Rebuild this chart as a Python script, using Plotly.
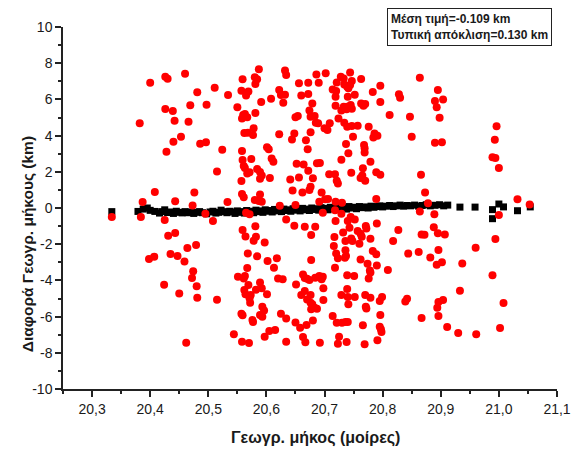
import plotly.graph_objects as go

# Red series: (longitude in degrees, difference in km)
red_points = [
    (20.400, 6.92), (20.426, 7.25), (20.430, 7.14), (20.460, 7.42), (20.511, 6.65), (20.481, 6.39),
    (20.534, 6.24), (20.469, 5.67), (20.497, 5.71), (20.426, 5.47), (20.439, 5.36), (20.382, 4.68),
    (20.442, 4.82), (20.466, 4.77), (20.453, 3.94), (20.440, 3.66), (20.486, 3.55), (20.496, 3.63),
    (20.428, 3.11), (20.524, 3.22), (20.515, 2.01), (20.408, 0.88), (20.476, 0.85), (20.387, 0.33),
    (20.443, 0.37), (20.473, 0.14), (20.533, 0.33),
    (20.334, -0.50), (20.384, -0.50), (20.425, -0.66), (20.495, -0.32), (20.508, -0.72), (20.431, -1.53),
    (20.443, -1.38), (20.464, -2.21), (20.479, -2.05), (20.398, -2.82), (20.407, -2.69), (20.435, -2.54),
    (20.447, -2.65), (20.459, -2.95), (20.474, -3.50), (20.472, -3.87), (20.424, -4.24), (20.480, -4.33),
    (20.450, -4.72), (20.481, -4.96), (20.515, -5.07), (20.462, -7.44),
    (20.587, 7.66), (20.632, 7.59), (20.634, 7.35), (20.686, 7.38), (20.702, 7.44), (20.559, 7.11),
    (20.580, 7.22), (20.584, 7.11), (20.581, 6.85), (20.728, 7.25), (20.733, 7.16), (20.744, 7.48),
    (20.747, 7.02), (20.763, 7.13), (20.656, 6.89), (20.672, 6.92), (20.690, 6.92), (20.721, 6.94),
    (20.734, 6.83), (20.739, 6.70), (20.744, 6.79), (20.741, 6.61), (20.796, 6.76), (20.557, 6.48),
    (20.569, 6.43), (20.565, 6.21), (20.622, 6.52), (20.625, 6.24), (20.632, 6.26), (20.660, 6.22),
    (20.672, 6.30), (20.714, 6.55), (20.720, 6.46), (20.752, 6.26), (20.783, 6.41), (20.719, 6.15),
    (20.740, 6.15), (20.591, 5.85), (20.608, 6.04), (20.629, 5.82), (20.679, 5.78), (20.550, 5.56),
    (20.560, 5.14), (20.563, 5.19), (20.558, 4.95), (20.567, 5.01), (20.581, 5.25), (20.654, 5.08),
    (20.650, 5.01), (20.674, 5.38), (20.676, 5.04), (20.683, 5.08), (20.685, 4.71), (20.689, 4.68),
    (20.719, 5.65), (20.729, 5.38), (20.733, 5.60), (20.739, 5.60), (20.745, 5.69), (20.738, 5.45),
    (20.747, 5.49), (20.763, 5.78), (20.767, 5.65), (20.770, 5.74), (20.796, 5.86), (20.812, 5.14),
    (20.724, 4.95), (20.734, 4.71), (20.739, 4.49), (20.747, 4.53), (20.757, 4.55), (20.776, 4.49),
    (20.709, 4.68), (20.700, 4.40), (20.705, 4.31), (20.578, 4.40), (20.562, 4.14), (20.568, 4.16),
    (20.577, 4.03), (20.622, 4.07), (20.648, 4.12), (20.644, 3.79), (20.676, 4.18), (20.668, 3.74),
    (20.749, 3.94), (20.786, 4.12), (20.791, 3.99), (20.784, 3.89), (20.671, 3.24), (20.737, 3.53),
    (20.741, 3.02), (20.768, 3.48), (20.769, 3.30), (20.769, 3.06), (20.601, 3.35), (20.604, 3.24),
    (20.558, 3.15), (20.609, 2.74), (20.612, 2.56), (20.559, 2.65), (20.561, 2.32), (20.574, 2.71),
    (20.652, 2.45), (20.664, 2.41), (20.672, 2.06), (20.687, 2.47), (20.692, 2.49), (20.729, 2.67),
    (20.779, 2.56), (20.766, 2.19), (20.563, 2.21), (20.567, 1.91), (20.571, 1.97), (20.584, 2.15),
    (20.589, 1.99), (20.592, 1.79), (20.589, 1.62), (20.606, 1.66), (20.557, 1.49), (20.641, 1.58),
    (20.656, 1.69), (20.680, 1.64), (20.708, 1.86), (20.718, 1.86), (20.721, 1.51), (20.723, 1.36),
    (20.746, 1.95), (20.762, 1.66), (20.765, 1.80), (20.770, 1.51), (20.789, 1.97), (20.796, 1.84),
    (20.645, 0.96), (20.662, 0.86), (20.674, 0.99), (20.676, 1.18), (20.695, 0.85), (20.701, 0.48),
    (20.691, 0.35), (20.706, 0.50), (20.558, 0.77), (20.561, 0.59), (20.589, 0.75), (20.580, 0.44),
    (20.587, 0.39), (20.592, 0.35), (20.789, 0.50), (20.623, 0.13), (20.650, 0.16), (20.719, 0.35),
    (20.730, 0.29),
    (20.864, 7.20), (20.828, 6.28), (20.830, 6.09), (20.895, 6.52), (20.904, 6.00), (20.890, 5.91),
    (20.893, 5.56), (20.847, 5.04), (20.898, 4.99), (20.850, 3.94), (20.890, 3.61), (20.902, 3.63),
    (20.996, 4.51), (20.993, 3.77), (20.989, 2.80), (20.994, 2.76), (21.000, 2.21), (20.866, 1.84),
    (20.873, 0.86), (20.878, 0.26), (21.032, 0.48), (21.053, 0.20),
    (20.565, -0.26), (20.571, -0.35), (20.697, -0.26), (20.718, -0.13), (20.729, -0.32), (20.634, -0.63),
    (20.581, -1.01), (20.559, -1.22), (20.564, -1.57), (20.578, -1.81), (20.582, -1.59), (20.597, -1.90),
    (20.648, -0.98), (20.666, -1.03), (20.684, -1.03), (20.677, -1.49), (20.719, -0.72), (20.732, -1.36),
    (20.740, -0.72), (20.745, -0.50), (20.752, -0.63), (20.743, -1.09), (20.757, -1.27), (20.762, -1.42),
    (20.764, -1.59), (20.771, -1.00), (20.772, -1.13), (20.790, -0.85), (20.717, -1.60), (20.716, -2.10),
    (20.736, -1.82), (20.746, -1.68), (20.748, -1.82), (20.760, -1.97), (20.779, -1.70), (20.818, -1.82),
    (20.568, -2.51), (20.584, -2.67), (20.602, -2.93), (20.618, -2.78), (20.613, -3.30), (20.677, -2.87),
    (20.720, -2.51), (20.723, -2.78), (20.736, -2.34), (20.735, -2.75), (20.737, -2.65), (20.762, -2.84),
    (20.774, -3.08), (20.783, -2.38), (20.789, -2.56), (20.790, -3.17), (20.778, -3.45), (20.779, -3.57),
    (20.776, -3.89), (20.809, -3.43), (20.718, -3.30), (20.567, -3.32), (20.551, -3.80), (20.563, -3.76),
    (20.561, -3.89), (20.620, -3.89), (20.628, -3.94), (20.651, -4.22), (20.663, -3.67), (20.670, -3.91),
    (20.674, -3.98), (20.666, -3.87), (20.684, -3.85), (20.691, -3.76), (20.697, -3.80), (20.695, -3.94),
    (20.569, -4.26), (20.562, -4.53), (20.564, -4.77), (20.573, -4.81), (20.582, -4.51), (20.589, -4.11),
    (20.592, -4.44), (20.601, -4.77), (20.572, -5.23), (20.571, -4.99), (20.660, -4.81), (20.666, -4.59),
    (20.670, -5.05), (20.676, -4.81), (20.698, -4.44), (20.698, -5.08), (20.676, -5.23), (20.679, -5.32),
    (20.677, -5.60), (20.683, -5.51), (20.687, -5.56), (20.739, -3.72), (20.751, -3.76), (20.739, -4.48),
    (20.729, -4.81), (20.740, -4.92), (20.752, -4.92), (20.741, -5.32), (20.770, -4.81), (20.779, -4.96),
    (20.795, -5.14), (20.799, -4.92), (20.771, -5.45), (20.772, -5.55), (20.557, -5.84), (20.559, -5.93),
    (20.576, -6.19), (20.577, -6.30), (20.593, -5.45), (20.596, -5.66), (20.589, -5.91), (20.593, -6.01),
    (20.625, -5.84), (20.634, -6.10), (20.650, -6.32), (20.658, -6.61), (20.669, -6.47), (20.680, -6.21),
    (20.714, -5.97), (20.721, -6.34), (20.730, -6.34), (20.736, -6.30), (20.740, -6.30), (20.766, -6.48),
    (20.796, -5.91), (20.795, -6.56), (20.798, -6.85), (20.797, -6.70), (20.544, -6.98), (20.558, -7.39),
    (20.570, -7.46), (20.605, -6.80), (20.597, -7.11), (20.615, -6.74), (20.634, -7.39), (20.663, -7.13),
    (20.667, -7.42), (20.692, -7.44), (20.725, -7.11), (20.723, -7.50), (20.738, -7.40), (20.769, -7.53),
    (20.791, -7.31),
    (20.864, -0.20), (20.889, -0.35), (21.000, -0.39), (20.827, -1.22), (20.867, -1.46), (20.872, -1.48),
    (20.888, -1.07), (20.895, -1.40), (20.907, -1.46), (20.844, -2.52), (20.862, -2.43), (20.882, -2.73),
    (20.896, -2.32), (20.893, -3.13), (20.902, -3.00), (20.937, -3.06), (20.960, -2.19), (20.994, -1.71),
    (20.989, -3.72), (20.933, -4.57), (20.839, -5.16), (20.842, -5.01), (20.896, -5.20), (20.904, -5.08),
    (20.894, -5.51), (20.896, -5.97), (20.867, -6.08), (21.008, -5.25), (20.911, -6.58), (20.930, -6.91),
    (20.961, -6.98), (21.002, -6.63),
]

# Black series: (longitude in degrees, difference in km)
black_points = [
    (20.334, -0.20), (20.379, -0.19), (20.388, -0.06), (20.395, 0.00), (20.400, -0.13), (20.408, -0.19),
    (20.416, -0.28), (20.420, -0.20), (20.425, -0.10), (20.430, -0.25), (20.435, -0.22), (20.440, -0.30),
    (20.445, -0.18), (20.450, -0.24), (20.455, -0.27), (20.460, -0.20), (20.465, -0.26), (20.470, -0.22),
    (20.475, -0.30), (20.480, -0.24), (20.485, -0.20), (20.490, -0.26), (20.497, -0.32), (20.503, -0.22),
    (20.508, -0.18), (20.513, -0.28), (20.518, -0.24), (20.522, -0.12), (20.527, -0.20), (20.532, -0.26),
    (20.537, -0.18), (20.542, -0.22), (20.546, -0.30), (20.550, -0.16), (20.554, -0.24), (20.558, -0.20),
    (20.562, -0.28), (20.566, -0.14), (20.570, -0.22), (20.574, -0.18), (20.578, -0.26), (20.582, -0.12),
    (20.586, -0.20), (20.590, -0.16), (20.594, -0.24), (20.598, -0.10), (20.602, -0.18), (20.606, -0.14),
    (20.610, -0.22), (20.614, -0.08), (20.618, -0.16), (20.622, -0.12), (20.626, -0.20), (20.630, -0.06),
    (20.634, -0.14), (20.638, -0.10), (20.642, -0.18), (20.646, -0.04), (20.650, -0.12), (20.654, -0.08),
    (20.658, -0.16), (20.662, -0.02), (20.666, -0.10), (20.670, -0.06), (20.674, -0.14), (20.678, 0.00),
    (20.682, -0.08), (20.686, -0.04), (20.690, -0.12), (20.694, 0.02), (20.698, -0.06), (20.702, -0.02),
    (20.706, -0.10), (20.710, 0.04), (20.714, -0.04), (20.718, 0.00), (20.722, -0.08), (20.726, 0.06),
    (20.730, -0.02), (20.734, 0.02), (20.738, -0.06), (20.742, 0.08), (20.746, 0.00), (20.750, 0.04),
    (20.755, -0.04), (20.760, 0.08), (20.765, 0.02), (20.770, 0.06), (20.775, 0.00), (20.780, 0.10),
    (20.785, 0.04), (20.790, 0.08), (20.795, 0.12), (20.800, 0.06), (20.806, 0.10), (20.812, 0.14),
    (20.818, 0.08), (20.824, 0.12), (20.830, 0.16), (20.836, 0.10), (20.842, 0.14), (20.848, 0.12),
    (20.855, 0.16), (20.862, 0.10), (20.868, 0.14), (20.875, 0.18), (20.882, 0.12), (20.890, 0.15),
    (20.898, 0.18), (20.905, 0.12), (20.912, 0.16), (20.933, 0.05), (20.959, 0.05), (20.989, -0.09),
    (21.000, 0.22), (21.008, 0.06), (20.989, -0.59), (21.032, -0.15), (21.054, 0.06),
]

x_tickvals = [20.3, 20.4, 20.5, 20.6, 20.7, 20.8, 20.9, 21.0, 21.1]
x_ticktext = ["20,3", "20,4", "20,5", "20,6", "20,7", "20,8", "20,9", "21,0", "21,1"]
y_tickvals = [-10, -8, -6, -4, -2, 0, 2, 4, 6, 8, 10]
y_ticktext = ["-10", "-8", "-6", "-4", "-2", "0", "2", "4", "6", "8", "10"]

x_title = "Γεωγρ. μήκος (μοίρες)"
y_title = "Διαφορά Γεωγρ. μήκους (km)"
stats_text = "Μέση τιμή=-0.109 km<br>Τυπική απόκλιση=0.130 km"

FONT = "Arial, 'Liberation Sans', sans-serif"

fig = go.Figure()
fig.add_trace(go.Scatter(
    x=[p[0] for p in black_points], y=[p[1] for p in black_points],
    mode="markers", marker=dict(symbol="square", size=7, color="black", line=dict(width=0)),
    showlegend=False, hoverinfo="skip"))
fig.add_trace(go.Scatter(
    x=[p[0] for p in red_points], y=[p[1] for p in red_points],
    mode="markers", marker=dict(symbol="circle", size=8, color="#ff0000", line=dict(width=0)),
    showlegend=False, hoverinfo="skip"))

axis_common = dict(
    showgrid=False, zeroline=False, showline=True, linecolor="#222", linewidth=1.5,
    ticks="outside", tickcolor="#222", tickwidth=1.5, ticklen=6,
    tickfont=dict(family=FONT, size=14, color="#1a1a1a"), mirror=False,
)

fig.update_xaxes(range=[20.25, 21.1], tickvals=x_tickvals, ticktext=x_ticktext,
                 minor=dict(ticks="outside", dtick=0.05, tick0=20.25, ticklen=3,
                            tickcolor="#222", tickwidth=1.5),
                 **axis_common)
fig.update_yaxes(range=[-10, 10], tickvals=y_tickvals, ticktext=y_ticktext,
                 minor=dict(ticks="outside", dtick=1, tick0=-10, ticklen=3,
                            tickcolor="#222", tickwidth=1.5),
                 **axis_common)

fig.update_layout(
    width=573, height=451,
    margin=dict(l=63, r=16, t=27, b=62, autoexpand=False),
    paper_bgcolor="white", plot_bgcolor="white",
    font=dict(family=FONT, color="#1a1a1a"),
    annotations=[
        dict(text="<b>" + x_title + "</b>", xref="paper", yref="paper",
             x=0.512, y=-0.135, xanchor="center", yanchor="middle", showarrow=False,
             font=dict(family=FONT, size=16, color="#1a1a1a")),
        dict(text="<b>" + y_title + "</b>", xref="paper", yref="paper",
             x=-0.073, y=0.40, xanchor="center", yanchor="middle", showarrow=False,
             textangle=-90, font=dict(family=FONT, size=15.5, color="#1a1a1a")),
        dict(text="<b>" + stats_text.replace("<br>", "</b><br><b>") + "</b>",
             xref="paper", yref="paper", x=0.99, y=1.0525, xanchor="right", yanchor="top",
             showarrow=False, align="left", bordercolor="#222", borderwidth=1, borderpad=3,
             bgcolor="white", font=dict(family=FONT, size=12, color="#1a1a1a")),
    ],
)

fig.write_html("out.html")
